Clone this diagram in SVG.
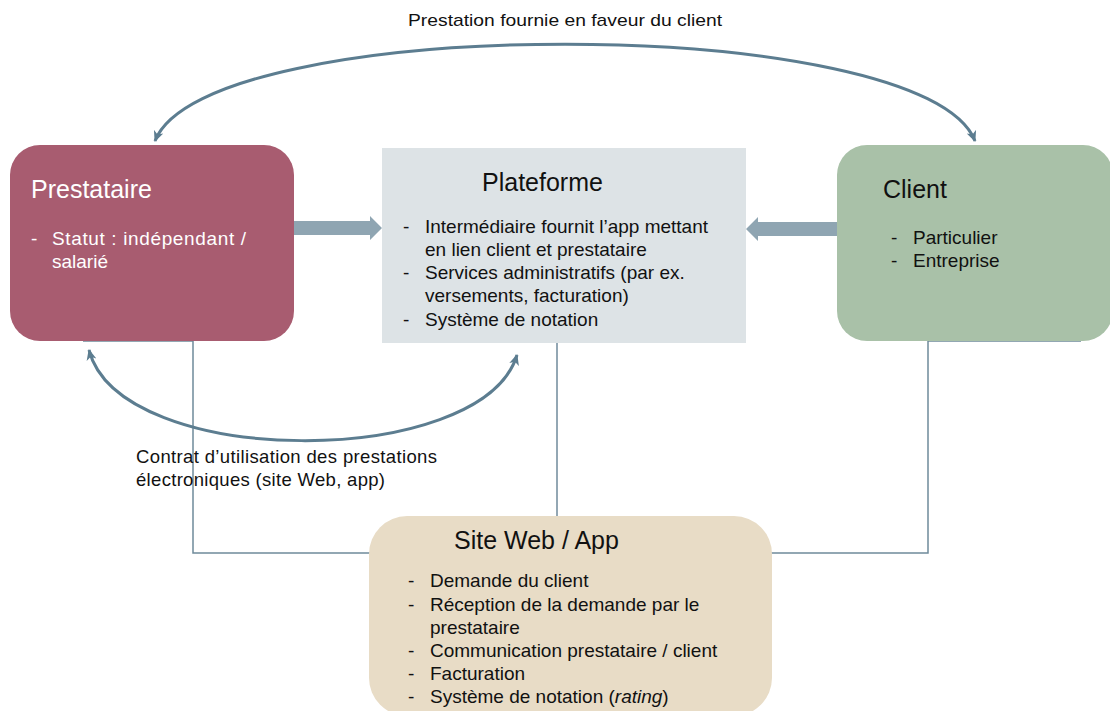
<svg xmlns="http://www.w3.org/2000/svg" width="1110" height="711" viewBox="0 0 1110 711">
  <defs>
    <style>
      .title { font-family: "Liberation Sans", Arial, sans-serif; font-size: 25px; }
      .body { font-family: "Liberation Sans", Arial, sans-serif; font-size: 19px; fill: #111; }
      .light { fill: #ffffff; }
      .label { font-family: "Liberation Sans", Arial, sans-serif; font-size: 18.5px; fill: #111; }
      .top { font-family: "Liberation Sans", Arial, sans-serif; font-size: 17px; fill: #111; }
      .curve { fill: none; stroke: #5C7D90; stroke-width: 3; }
      .wire { fill: none; stroke: #6F8A9B; stroke-width: 1.5; }
      .block { fill: #8FA5B2; }
    </style>
    <marker id="head" viewBox="0 0 12 12" refX="10" refY="6" markerWidth="12" markerHeight="12" markerUnits="userSpaceOnUse" orient="auto-start-reverse">
      <path d="M0,1 L11,6 L0,11 L3,6 Z" fill="#5C7D90"/>
    </marker>
  </defs>

  <!-- plain connector lines between the boxes -->
  <g id="connectors">
    <polyline class="wire" points="83,341 193,341 193,553 370,553"/>
    <polyline class="wire" points="1081,341 928,341 928,553 771,553"/>
    <line class="wire" x1="557" y1="343" x2="557" y2="517"/>

    <!-- curved double-headed arrows -->
    <path class="curve" d="M155,141 C205,12 925,12 975,141" marker-start="url(#head)" marker-end="url(#head)"/>
    <path class="curve" d="M89,350 C120,470 482,470 517,355" marker-start="url(#head)" marker-end="url(#head)"/>

    <!-- block arrows into the platform -->
    <path class="block" d="M294,221 L370,221 L370,216 L382,228 L370,240 L370,235 L294,235 Z"/>
    <path class="block" d="M837,222 L758,222 L758,217 L746,229 L758,241 L758,236 L837,236 Z"/>

    <text class="top" x="565" y="26" text-anchor="middle" textLength="314" lengthAdjust="spacingAndGlyphs">Prestation fournie en faveur du client</text>
    <text class="label" x="136" y="463" textLength="301">Contrat d’utilisation des prestations</text>
    <text class="label" x="136" y="486" textLength="249">électroniques (site Web, app)</text>
  </g>

  <g id="prestataire">
    <rect x="10" y="145" width="284" height="196" rx="30" fill="#A85C70"/>
    <text class="title light" x="31" y="198">Prestataire</text>
    <text class="body light" x="31" y="245">-</text>
    <text class="body light" x="52" y="245" textLength="194">Statut : indépendant /</text>
    <text class="body light" x="52" y="268">salarié</text>
  </g>

  <g id="plateforme">
    <rect x="382" y="148" width="364" height="195" fill="#DDE3E6"/>
    <text class="title" x="482" y="191" fill="#111">Plateforme</text>
    <text class="body" x="403" y="233">-</text>
    <text class="body" x="425" y="233">Intermédiaire fournit l’app mettant</text>
    <text class="body" x="425" y="256">en lien client et  prestataire</text>
    <text class="body" x="403" y="279">-</text>
    <text class="body" x="425" y="279">Services administratifs (par ex.</text>
    <text class="body" x="425" y="302">versements, facturation)</text>
    <text class="body" x="403" y="326">-</text>
    <text class="body" x="425" y="326">Système de notation</text>
  </g>

  <g id="client">
    <rect x="837" y="145" width="276" height="196" rx="30" fill="#A9C1A8"/>
    <text class="title" x="883" y="198" fill="#111">Client</text>
    <text class="body" x="891" y="244">-</text>
    <text class="body" x="913" y="244">Particulier</text>
    <text class="body" x="891" y="267">-</text>
    <text class="body" x="913" y="267">Entreprise</text>
  </g>

  <g id="site-web-app">
    <rect x="369" y="516" width="403" height="200" rx="38" fill="#E8DCC6"/>
    <text class="title" x="454" y="549" fill="#111">Site Web / App</text>
    <text class="body" x="408" y="587">-</text>
    <text class="body" x="430" y="587">Demande du client</text>
    <text class="body" x="408" y="611">-</text>
    <text class="body" x="430" y="611">Réception de la demande par le</text>
    <text class="body" x="430" y="634">prestataire</text>
    <text class="body" x="408" y="657">-</text>
    <text class="body" x="430" y="657">Communication prestataire / client</text>
    <text class="body" x="408" y="680">-</text>
    <text class="body" x="430" y="680">Facturation</text>
    <text class="body" x="408" y="703">-</text>
    <text class="body" x="430" y="703">Système de notation (<tspan font-style="italic">rating</tspan>)</text>
  </g>
</svg>
